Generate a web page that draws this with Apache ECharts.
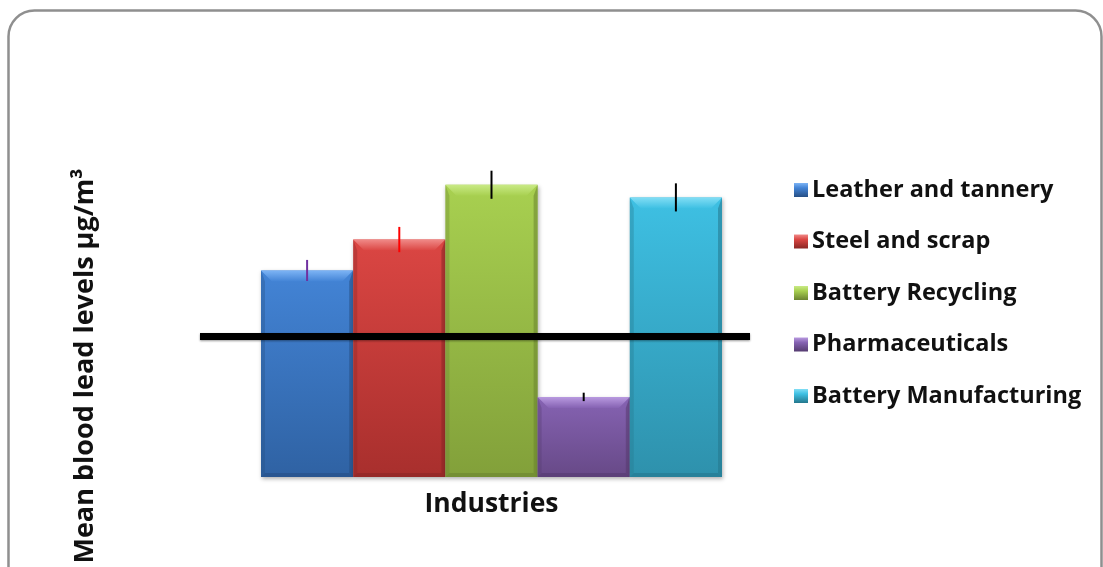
<!DOCTYPE html>
<html>
<head>
<meta charset="utf-8">
<script src="https://cdn.jsdelivr.net/npm/echarts@6/dist/echarts.min.js"></script>
<style>
  html, body { margin: 0; padding: 0; background: #ffffff; }
  #chart { width: 1103px; height: 567px; }
</style>
</head>
<body>
<div id="chart"></div>
<script>
// Mean blood lead levels by industry, with error bars and a reference level
const categories = ['Industries'];
const industries = ['Leather and tannery', 'Steel and scrap', 'Battery Recycling', 'Pharmaceuticals', 'Battery Manufacturing'];
const meanLevels = [14.7, 16.9, 20.8, 5.7, 19.9];
const errors = [0.75, 0.9, 1.0, 0.3, 1.0];
const referenceLevel = 10;

// [light top, body top, body bottom, dark edge, error-bar colour]
const palette = [
  ['#7db4f5', '#4384d6', '#2f62a3', '#264f85', '#7030a0'],
  ['#f08a88', '#db4643', '#a82f2d', '#8a2624', '#ff0000'],
  ['#c9ea86', '#a8d050', '#82a03a', '#6a8330', '#000000'],
  ['#b99ae0', '#8663b3', '#674987', '#553b70', '#000000'],
  ['#82def5', '#3ec0e3', '#2e91ac', '#24778d', '#000000']
];

const FONT = '"Open Sans", Lato, sans-serif';

function barRenderer(k) {
  return function (params, api) {
    const val = api.value(1);
    const err = api.value(2);
    const top = api.coord([api.value(0), val]);
    const base = api.coord([api.value(0), 0]);
    const band = api.size([1, 0])[0];
    const w = band / industries.length;
    const x0 = top[0] - band / 2 + k * w;
    const x1 = x0 + w;
    const y0 = top[1];
    const y1 = base[1];
    const bt = 11, bs = 4, bb = 4;
    const c = palette[k];
    const hiTop = api.coord([api.value(0), val + err]);
    const loTop = api.coord([api.value(0), val - err]);
    const cx = (x0 + x1) / 2;
    return {
      type: 'group',
      children: [
        {
          type: 'rect',
          shape: { x: x0, y: y0, width: w, height: y1 - y0 },
          style: {
            fill: new echarts.graphic.LinearGradient(0, 0, 0, 1, [
              { offset: 0, color: c[1] }, { offset: 1, color: c[2] }
            ]),
            shadowBlur: 4, shadowOffsetX: 1, shadowOffsetY: 2, shadowColor: 'rgba(0,0,0,0.3)'
          }
        },
        {
          type: 'polygon',
          shape: { points: [[x0, y0], [x1, y0], [x1 - bt, y0 + bt], [x0 + bt, y0 + bt]] },
          style: {
            fill: new echarts.graphic.LinearGradient(0, 0, 0, 1, [
              { offset: 0, color: c[0] }, { offset: 1, color: c[1] }
            ])
          }
        },
        {
          type: 'polygon',
          shape: { points: [[x0, y0], [x0 + bs, y0 + bt], [x0 + bs, y1 - bb], [x0, y1]] },
          style: { fill: c[3], opacity: 0.35 }
        },
        {
          type: 'polygon',
          shape: { points: [[x1, y0], [x1 - bs, y0 + bt], [x1 - bs, y1 - bb], [x1, y1]] },
          style: { fill: c[3], opacity: 0.55 }
        },
        {
          type: 'polygon',
          shape: { points: [[x0, y1], [x0 + bs, y1 - bb], [x1 - bs, y1 - bb], [x1, y1]] },
          style: { fill: c[3], opacity: 0.6 }
        },
        {
          type: 'line',
          shape: { x1: cx, y1: hiTop[1], x2: cx, y2: loTop[1] },
          style: { stroke: c[4], lineWidth: 2 }
        }
      ]
    };
  };
}

const series = industries.map(function (name, k) {
  return {
    name: name,
    type: 'custom',
    z: 2,
    clip: false,
    itemStyle: {
      color: new echarts.graphic.LinearGradient(0, 0, 0, 1, [
        { offset: 0, color: palette[k][0] }, { offset: 0.35, color: palette[k][1] }, { offset: 1, color: palette[k][3] }
      ])
    },
    renderItem: barRenderer(k),
    data: [[0, meanLevels[k], errors[k]]]
  };
});

// Reference level drawn across the bar group, extending past it on both sides
series.push({
  name: 'Reference',
  type: 'custom',
  z: 5,
  clip: false,
  silent: true,
  renderItem: function (params, api) {
    const p = api.coord([api.value(0), api.value(1)]);
    const band = api.size([1, 0])[0];
    return {
      type: 'line',
      shape: { x1: p[0] - band / 2 - 61, y1: p[1], x2: p[0] + band / 2 + 28, y2: p[1] },
      style: { stroke: '#000000', lineWidth: 7, shadowBlur: 2, shadowColor: 'rgba(0,0,0,0.4)', shadowOffsetY: 1 }
    };
  },
  data: [[0, referenceLevel]]
});

const chart = echarts.init(document.getElementById('chart'), null, { renderer: 'canvas' });
chart.setOption({
  backgroundColor: '#ffffff',
  animation: false,
  graphic: [{
    type: 'rect',
    silent: true,
    shape: { x: 8.5, y: 10.5, width: 1093, height: 640, r: 26 },
    style: { fill: 'none', stroke: '#8f8f8f', lineWidth: 2.5 }
  }],
  grid: { left: 261, width: 461, top: 255, bottom: 90 },
  legend: {
    orient: 'vertical',
    left: 789,
    top: 173,
    data: industries,
    itemWidth: 14,
    itemHeight: 14,
    itemGap: 27.5,
    icon: 'rect',
    selectedMode: false,
    textStyle: { fontFamily: FONT, fontSize: 23.5, fontWeight: 'bold', color: '#111111', lineHeight: 22, padding: [0, 0, 0, -1] }
  },
  xAxis: {
    type: 'category',
    data: categories,
    axisLine: { show: false },
    axisTick: { show: false },
    axisLabel: { fontFamily: FONT, fontSize: 26.5, fontWeight: 'bold', color: '#111111', margin: 14 }
  },
  yAxis: {
    type: 'value',
    min: 0,
    max: 15.8,
    axisLine: { show: false },
    axisTick: { show: false },
    axisLabel: { show: false },
    splitLine: { show: false },
    name: 'Mean blood lead levels µg/m³',
    nameLocation: 'middle',
    nameGap: 162,
    nameTextStyle: { fontFamily: FONT, fontSize: 27, fontWeight: 'bold', color: '#111111' }
  },
  series: series
});
</script>
</body>
</html>
